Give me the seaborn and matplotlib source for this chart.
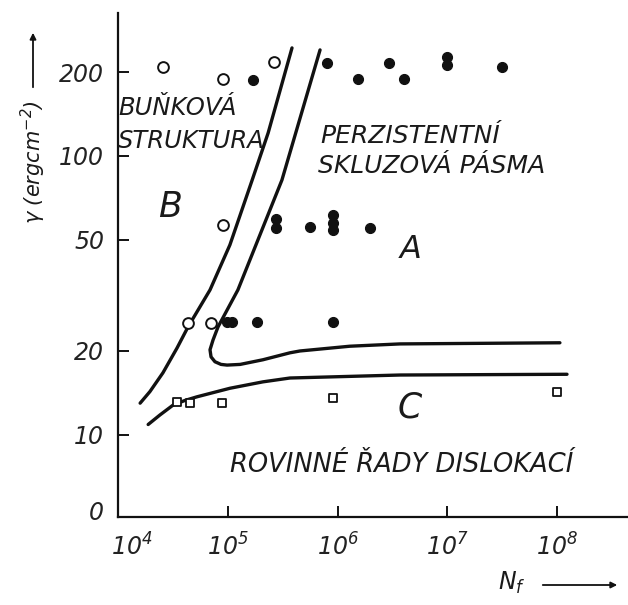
import matplotlib
matplotlib.use("Agg")
import matplotlib.pyplot as plt
from matplotlib.transforms import ScaledTranslation
import seaborn as sns

# Cyclic deformation regimes: cycles to failure N_f vs. stacking-fault energy gamma
open_n = [2.55e4, 9.0e4, 2.62e5, 9.0e4, 4.3e4, 7.0e4]
open_g = [208, 189, 217, 56.6, 25.2, 25.2]

filled_n = [1.69e5, 7.98e5, 1.53e6, 2.94e6, 4.0e6, 9.9e6, 9.9e6, 3.15e7,
            2.74e5, 2.74e5, 5.6e5, 9.06e5, 9.06e5, 9.06e5, 1.97e6,
            9.8e4, 1.09e5, 1.84e5, 9.06e5]
filled_g = [187, 215, 189, 215, 189, 226, 212, 208,
            59.4, 55.2, 55.6, 61.5, 57.5, 54.3, 55.2,
            25.4, 25.4, 25.4, 25.4]

square_n = [3.43e4, 4.5e4, 8.8e4, 9.06e5, 1.0e8]
square_g = [13.1, 13.0, 13.0, 13.6, 14.2]

# Regime boundaries
cell_n = [1.58e4, 1.94e4, 2.55e4, 3.43e4, 4.32e4, 6.85e4, 1.04e5, 1.66e5, 2.32e5, 3.83e5]
cell_g = [13.0, 14.3, 16.7, 20.5, 24.4, 33.1, 48.0, 82.0, 120.9, 244]

psb_n = [6.90e5, 3.10e5, 1.23e5, 8.11e4, 7.3e4, 6.85e4, 7.0e4, 7.6e4, 8.63e4, 9.8e4,
         1.29e5, 2.08e5, 3.67e5, 4.53e5, 1.29e6, 3.70e6, 1.06e8]
psb_g = [240, 82.0, 33.1, 24.4, 21.9, 20.2, 19.05, 18.3, 17.9, 17.8,
         17.9, 18.6, 19.7, 20.0, 20.8, 21.2, 21.4]

planar_n = [1.87e4, 2.40e4, 3.16e4, 4.06e4, 5.21e4, 1.04e5, 2.08e5, 3.67e5, 3.70e6, 1.23e8]
planar_g = [10.9, 11.8, 12.8, 13.3, 13.7, 14.7, 15.5, 16.0, 16.4, 16.5]

y_ticks = [5.38, 10, 20, 50, 100, 200]
y_labels = ["0", "10", "20", "50", "100", "200"]
x_ticks = [1e4, 1e5, 1e6, 1e7, 1e8]
x_labels = ["$10^4$", "$10^5$", "$10^6$", "$10^7$", "$10^8$"]

sns.set_theme(style="ticks")
plt.rcParams["font.family"] = ["DejaVu Sans"]
plt.rcParams["font.style"] = "italic"
plt.rcParams["mathtext.default"] = "it"

W, H = 628, 605
fig = plt.figure(figsize=(W / 100, H / 100), dpi=100)
fig.patch.set_facecolor("white")
ax = fig.add_axes([118 / W, (H - 517) / H, 510 / W, 504 / H])
ax.set_facecolor("white")

ink = "#111111"
for n, g in [(cell_n, cell_g), (psb_n, psb_g), (planar_n, planar_g)]:
    sns.lineplot(x=n, y=g, sort=False, estimator=None, ax=ax,
                 color=ink, linewidth=2.4, legend=False)
for line in ax.get_lines():
    line.set_solid_joinstyle("round")
    line.set_solid_capstyle("round")

sns.scatterplot(x=open_n, y=open_g, ax=ax, marker="o", s=60,
                facecolor="white", edgecolor=ink, linewidth=1.4, zorder=4)
sns.scatterplot(x=filled_n, y=filled_g, ax=ax, marker="o", s=52,
                color=ink, edgecolor=ink, linewidth=0.8, zorder=4)
sns.scatterplot(x=square_n, y=square_g, ax=ax, marker="s", s=32,
                facecolor="white", edgecolor=ink, linewidth=1.3, zorder=4)

ax.set_xscale("log")
ax.set_yscale("log")
ax.set_xlim(10 ** 3.997, 10 ** 8.646)
ax.set_ylim(5.08, 325.5)
ax.minorticks_off()
ax.set_xticks(x_ticks)
ax.set_xticklabels(x_labels)
ax.set_yticks(y_ticks)
ax.set_yticklabels(y_labels)
ax.tick_params(axis="both", direction="in", length=8, width=1.4, colors=ink,
               labelsize=17, pad=10)
ax.tick_params(axis="x", pad=12)
ax.yaxis.get_major_ticks()[0].tick1line.set_visible(False)
ax.xaxis.get_major_ticks()[0].tick1line.set_visible(False)
for lab in ax.get_xticklabels() + ax.get_yticklabels():
    lab.set_fontstyle("italic")
    lab.set_color("#222222")
first = ax.get_xticklabels()[0]
first.set_transform(first.get_transform() + ScaledTranslation(0.13, 0, fig.dpi_scale_trans))

sns.despine(ax=ax)
for side in ("left", "bottom"):
    ax.spines[side].set_linewidth(1.6)
    ax.spines[side].set_color(ink)

def put(x, y, s, size, **kw):
    fig.text(x / W, 1 - y / H, s, fontsize=size, style="italic", color="#1a1a1a",
             va="baseline", ha="left", **kw)

put(118, 115, "BUŇKOVÁ", 17.5)
put(118, 148, "STRUKTURA", 17.5)
put(158, 217, "B", 25)
put(320, 143, "PERZISTENTNÍ", 18)
put(318, 173, "SKLUZOVÁ PÁSMA", 18)
put(400, 258, "A", 23)
put(398, 418, "C", 25)
put(230, 472, "ROVINNÉ ŘADY DISLOKACÍ", 18.5)

# axis titles with arrows
fig.text(33 / W, 1 - 162 / H, "γ (ergcm$^{-2}$)", rotation=90, fontsize=15,
         style="italic", color="#1a1a1a", ha="center", va="center")
ax.annotate("", xy=(33 / W, 1 - 30 / H), xytext=(33 / W, 1 - 90 / H),
            xycoords="figure fraction", textcoords="figure fraction",
            arrowprops=dict(arrowstyle="-|>", color=ink, lw=1.3,
                            mutation_scale=9))
fig.text(512 / W, 1 - 583 / H, "N$_f$", fontsize=17, color="#1a1a1a",
         ha="center", va="center")
ax.annotate("", xy=(620 / W, 1 - 585 / H), xytext=(540 / W, 1 - 585 / H),
            xycoords="figure fraction", textcoords="figure fraction",
            arrowprops=dict(arrowstyle="-|>", color=ink, lw=1.3,
                            mutation_scale=9))

fig.savefig("out.png", dpi=100, facecolor="white")
